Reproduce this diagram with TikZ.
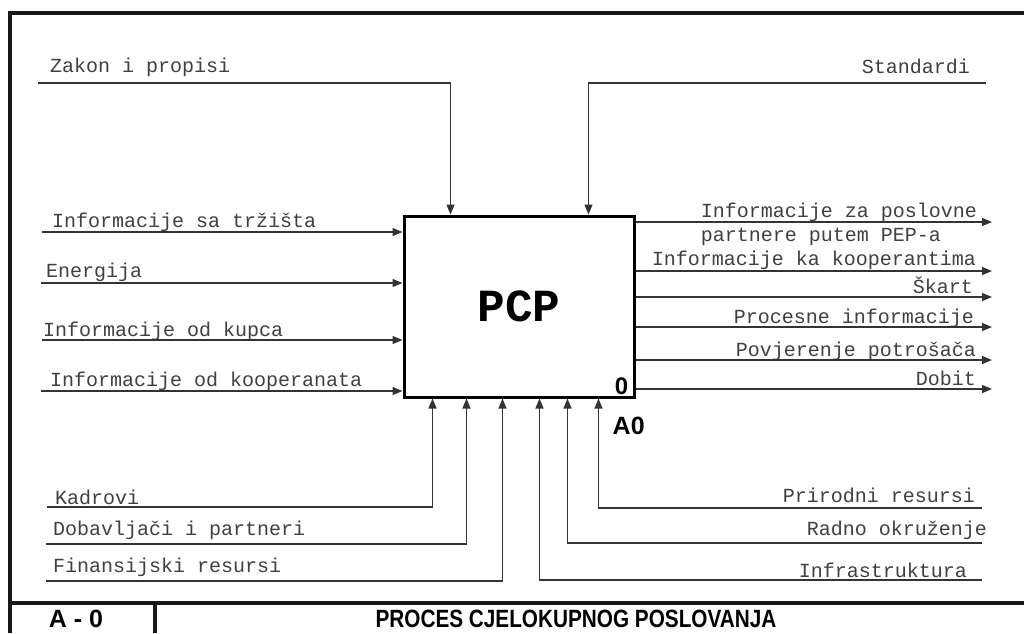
\documentclass[tikz,border=0pt]{standalone}
\usepackage{fontspec}
\setmainfont{Liberation Sans}
\newfontfamily\courier{Liberation Mono}
\usetikzlibrary{arrows.meta,positioning,calc}

\begin{document}
\begin{tikzpicture}[x=1pt, y=-1pt,
        flow/.style={draw=black!80, line width=1.2pt, -{Triangle[length=10pt,width=8pt]}},
        lbl/.style={font=\courier\fontsize{20}{24}\selectfont, text=black!75, inner sep=0pt},
        frame/.style={line width=3.5pt, black!90},
        hdr/.style={font=\bfseries\fontsize{25}{28}\selectfont, inner sep=0pt}]
        \useasboundingbox (0,0) rectangle (1024,633);

        % Frame
        \draw[frame] (1024,13) -- (10,13) -- (10,633);
        \draw[frame] (10,603) -- (1024,603);
        \draw[frame] (155,603) -- (155,633);
        \node[hdr, anchor=base] (diagid) at (76,627) {A - 0};
        \node[hdr, anchor=base] (title) at (576,627) {\scalebox{0.83}[1]{PROCES CJELOKUPNOG POSLOVANJA}};

        % Activity box
        \node[draw, line width=3pt, minimum width=230pt, minimum height=181pt, inner sep=0pt,
              font=\courier\bfseries\fontsize{46}{50}\selectfont] (pcp) at (519,306.5) {PCP};
        \node[hdr, font=\bfseries\fontsize{24}{26}\selectfont, anchor=south east] (boxnum)
              at ([xshift=-7pt,yshift=4pt]pcp.south east) {0};
        \node[hdr, anchor=north west] (boxid) at ([xshift=-23pt,yshift=-18pt]pcp.south east) {A0};

        % Controls
        \coordinate (zakon) at (38,83);
        \coordinate (standardi) at (986,83);
        \node[lbl, anchor=base west] (tZakon) at (50,72) {Zakon i propisi};
        \node[lbl, anchor=base east] (tStandardi) at (970,73) {Standardi};
        \draw[flow] (zakon) -| ([xshift=48pt]pcp.north west);
        \draw[flow] (standardi) -| ([xshift=186pt]pcp.north west);

        % Inputs
        \coordinate (trziste) at (42,232);
        \coordinate (energija) at (41,283);
        \coordinate (kupac) at (42,340);
        \coordinate (kooperant) at (41,391);
        \node[lbl, anchor=base west] (tTrziste) at (52,227) {Informacije sa tržišta};
        \node[lbl, anchor=base west] (tEnergija) at (46,277) {Energija};
        \node[lbl, anchor=base west] (tKupac) at (43,336) {Informacije od kupca};
        \node[lbl, anchor=base west] (tKooperant) at (50,386) {Informacije od kooperanata};
        \draw[flow] (trziste) -- (trziste -| pcp.west);
        \draw[flow] (energija) -- (energija -| pcp.west);
        \draw[flow] (kupac) -- (kupac -| pcp.west);
        \draw[flow] (kooperant) -- (kooperant -| pcp.west);

        % Outputs
        \coordinate (pepa) at (992,222);
        \coordinate (kooperanti) at (992,271);
        \coordinate (skart) at (992,297);
        \coordinate (procesne) at (992,327);
        \coordinate (povjerenje) at (992,360);
        \coordinate (dobit) at (992,389);
        \node[lbl, anchor=base east] (tPepa) at (977,217) {Informacije za poslovne};
        \node[lbl, anchor=base west] (tPepb) at (tPepa.base west |- 0,241) {partnere putem PEP-a};
        \node[lbl, anchor=base east] (tKooperanti) at (976,265) {Informacije ka kooperantima};
        \node[lbl, anchor=base east] (tSkart) at (973,293) {Škart};
        \node[lbl, anchor=base east] (tProcesne) at (974,323) {Procesne informacije};
        \node[lbl, anchor=base east] (tPovjerenje) at (976,356) {Povjerenje potrošača};
        \node[lbl, anchor=base east] (tDobit) at (976,385) {Dobit};
        \draw[flow] (pcp.east |- pepa) -- (pepa);
        \draw[flow] (pcp.east |- kooperanti) -- (kooperanti);
        \draw[flow] (pcp.east |- skart) -- (skart);
        \draw[flow] (pcp.east |- procesne) -- (procesne);
        \draw[flow] (pcp.east |- povjerenje) -- (povjerenje);
        \draw[flow] (pcp.east |- dobit) -- (dobit);

        % Mechanisms
        \coordinate (kadrovi) at (47,507);
        \coordinate (dobavljaci) at (46,544);
        \coordinate (finansije) at (46,581);
        \coordinate (infra) at (982,580);
        \coordinate (radno) at (982,543);
        \coordinate (prirodni) at (982,508);
        \node[lbl, anchor=base west] (tKadrovi) at (55,504) {Kadrovi};
        \node[lbl, anchor=base west] (tDobavljaci) at (53,535) {Dobavljači i partneri};
        \node[lbl, anchor=base west] (tFinansije) at (53,572) {Finansijski resursi};
        \node[lbl, anchor=base east] (tPrirodni) at (975,502) {Prirodni resursi};
        \node[lbl, anchor=base east] (tRadno) at (987,535) {Radno okruženje};
        \node[lbl, anchor=base east] (tInfra) at (967,577) {Infrastruktura};
        \draw[flow] (kadrovi) -| ([xshift=30pt]pcp.south west);
        \draw[flow] (dobavljaci) -| ([xshift=64pt]pcp.south west);
        \draw[flow] (finansije) -| ([xshift=100pt]pcp.south west);
        \draw[flow] (infra) -| ([xshift=137pt]pcp.south west);
        \draw[flow] (radno) -| ([xshift=165pt]pcp.south west);
        \draw[flow] (prirodni) -| ([xshift=196pt]pcp.south west);

    \end{tikzpicture}
\end{document}
